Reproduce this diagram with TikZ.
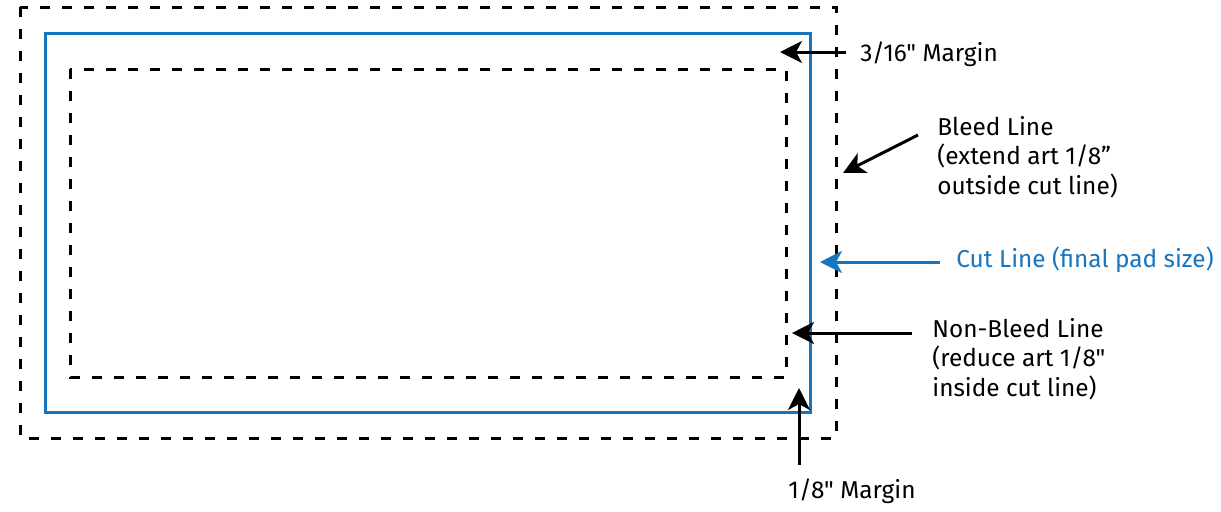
\documentclass[tikz,border=0pt]{standalone}
\usepackage{fontspec}
\setmainfont{Fira Sans}[Ligatures=TeXOff]
\usetikzlibrary{arrows.meta}
\definecolor{cutblue}{RGB}{23,117,190}
\tikzset{>={Stealth[length=11pt,width=11pt,inset=3pt]},
  guide/.style={draw,line width=1.5pt,dash pattern=on 5pt off 6pt},
  cutline/.style={draw=cutblue,line width=1.5pt},
  pointer/.style={->,line width=1.5pt},
  note/.style={anchor=base west,inner sep=0pt,align=left,font=\fontsize{12.2}{14.75}\selectfont}}

\begin{document}
\begin{tikzpicture}[x=0.5pt,y=-0.5pt]
  \useasboundingbox (0,0) rectangle (1221,511);

  % bleed, cut and non-bleed lines
  \draw[guide] (20,7) rectangle (836,438);
  \draw[cutline] (45,33) rectangle (810,412);
  \draw[guide] (70,69) rectangle (786,377);

  % arrow ends
  \coordinate (margintail) at (846,52);
  \coordinate (margintip) at (780,52);
  \coordinate (bleedtail) at (918,135);
  \coordinate (bleedtip) at (843,173);
  \coordinate (cuttail) at (940,262);
  \coordinate (cuttip) at (820,262);
  \coordinate (nonbleedtail) at (912,333);
  \coordinate (nonbleedtip) at (792,333);
  \coordinate (eighthtail) at (799,465);
  \coordinate (eighthtip) at (799,388);

  % labels (base of multi-line notes is their last line)
  \node[note] (margin) at (860,61) {3/16" Margin};
  \node[note] (bleed) at (937,194) {Bleed Line\\(extend art 1/8”\\outside cut line)};
  \node[note,text=cutblue] (cut) at (956,267) {Cut Line (final pad size)};
  \node[note] (nonbleed) at (932,396) {Non-Bleed Line\\(reduce art 1/8"\\inside cut line)};
  \node[note,anchor=base] (eighth) at (852,498) {1/8" Margin};

  \draw[pointer] (margintail) -- (margintip);
  \draw[pointer] (bleedtail) -- (bleedtip);
  \draw[pointer,cutblue] (cuttail) -- (cuttip);
  \draw[pointer] (nonbleedtail) -- (nonbleedtip);
  \draw[pointer] (eighthtail) -- (eighthtip);
\end{tikzpicture}
\end{document}
